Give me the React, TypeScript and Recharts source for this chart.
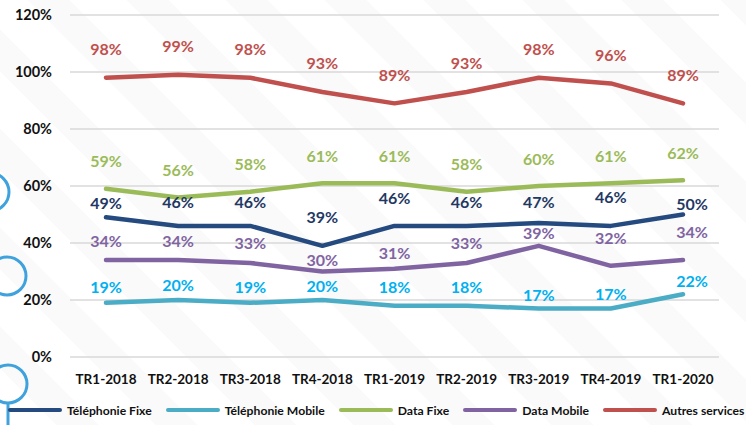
import { LineChart, Line, XAxis, YAxis, CartesianGrid, Legend, LabelList } from 'recharts';

const quarters = ['TR1-2018', 'TR2-2018', 'TR3-2018', 'TR4-2018', 'TR1-2019', 'TR2-2019', 'TR3-2019', 'TR4-2019', 'TR1-2020'];
const telFixe = [49, 46, 46, 39, 46, 46, 47, 46, 50];
const telMobile = [19, 20, 19, 20, 18, 18, 17, 17, 22];
const dataFixe = [59, 56, 58, 61, 61, 58, 60, 61, 62];
const dataMobile = [34, 34, 33, 30, 31, 33, 39, 32, 34];
const autres = [98, 99, 98, 93, 89, 93, 98, 96, 89];
const yTicks = [0, 20, 40, 60, 80, 100, 120];

const data = quarters.map((q, i) => ({
  q,
  telFixe: telFixe[i],
  telMobile: telMobile[i],
  dataFixe: dataFixe[i],
  dataMobile: dataMobile[i],
  autres: autres[i],
}));

const FONT = 'Lato, "Open Sans", sans-serif';

// label placement (how far above the point), tuned by eye
const LABEL_UP: Record<string, number[]> = {
  autres: [29, 29, 29, 29, 29, 29, 29, 29, 29],
  dataFixe: [28, 28, 28, 28, 28, 28, 28, 28, 28],
  telFixe: [15, 24, 24, 29, 28, 24, 22, 29, 11],
  dataMobile: [20, 20, 20, 12, 16, 20, 13, 28, 29],
  telMobile: [16, 16, 16, 15, 19, 19, 14, 15, 14],
};
const LABEL_RIGHT: Record<string, number> = { telFixe: 9, dataMobile: 9, telMobile: 9 };

const SERIES = [
  { key: 'telFixe', name: 'Téléphonie Fixe', stroke: '#254a7f', label: '#1f3864' },
  { key: 'telMobile', name: 'Téléphonie Mobile', stroke: '#4bacc6', label: '#00b0f0' },
  { key: 'dataFixe', name: 'Data Fixe', stroke: '#9bbb59', label: '#9bbb59' },
  { key: 'dataMobile', name: 'Data Mobile', stroke: '#8064a2', label: '#8064a2' },
  { key: 'autres', name: 'Autres services', stroke: '#c0504d', label: '#c0504d' },
];

function makeLabel(key: string, color: string) {
  return (props: any) => {
    const { x, y, value, index } = props;
    const dx = index === quarters.length - 1 ? LABEL_RIGHT[key] ?? 0 : 0;
    return (
      <text
        x={x + dx}
        y={y - LABEL_UP[key][index]}
        fill={color}
        textAnchor="middle"
        dominantBaseline="central"
        fontSize={16}
        fontWeight={700}
        fontFamily={FONT}
      >
        {value}%
      </text>
    );
  };
}

function LegendRow() {
  return (
    <div style={{ display: 'flex', alignItems: 'center', fontFamily: FONT, fontWeight: 700, fontSize: 12.2, color: '#111', whiteSpace: 'nowrap', height: 16 }}>
      {SERIES.map((s) => (
        <div key={s.key} style={{ display: 'flex', alignItems: 'center', marginRight: 14 }}>
          <span style={{ display: 'inline-block', width: 54, height: 4, borderRadius: 2, background: s.stroke, marginRight: 5 }} />
          <span>{s.name}</span>
        </div>
      ))}
    </div>
  );
}

export default function App() {
  return (
    <div
      style={{
        position: 'fixed',
        left: 0,
        top: 0,
        width: 746,
        height: 425,
        overflow: 'hidden',
        background: 'repeating-linear-gradient(45deg, #ffffff 0px, #ffffff 40px, #fafafa 40px, #fafafa 70px)',
      }}
    >
      <svg width={746} height={425} style={{ position: 'absolute', left: 0, top: 0 }}>
        <g fill="none" stroke="#3fa2dd" strokeWidth={3}>
          <circle cx={-10} cy={192} r={19} />
          <circle cx={7} cy={276} r={19} />
          <circle cx={8} cy={384} r={19} />
          <line x1={8} y1={403} x2={8} y2={425} />
        </g>
      </svg>
      <LineChart
        width={746}
        height={425}
        data={data}
        margin={{ top: 15, right: 27, left: 0, bottom: 12 }}
        style={{ position: 'absolute', left: 0, top: 0 }}
      >
        <CartesianGrid vertical={false} stroke="#d9d9d9" strokeWidth={1.5} />
        <XAxis
          dataKey="q"
          axisLine={false}
          tickLine={false}
          tickMargin={11}
          height={40}
          interval={0}
          padding={{ left: 36, right: 36 }}
          tick={{ fill: '#111', fontSize: 13.5, fontWeight: 700, fontFamily: FONT }}
        />
        <YAxis
          width={70}
          domain={[0, 120]}
          ticks={yTicks}
          axisLine={false}
          tickLine={false}
          tickMargin={12}
          tickFormatter={(v) => `${v}%`}
          tick={{ fill: '#111', fontSize: 14.5, fontWeight: 700, fontFamily: FONT }}
        />
        <Legend
          content={<LegendRow />}
          wrapperStyle={{ left: 8, top: 402, width: 740 }}
        />
        {SERIES.map((s) => (
          <Line
            key={s.key}
            dataKey={s.key}
            name={s.name}
            stroke={s.stroke}
            strokeWidth={4.5}
            strokeLinecap="round"
            strokeLinejoin="round"
            dot={false}
            isAnimationActive={false}
          >
            <LabelList dataKey={s.key} content={makeLabel(s.key, s.label)} />
          </Line>
        ))}
      </LineChart>
    </div>
  );
}
